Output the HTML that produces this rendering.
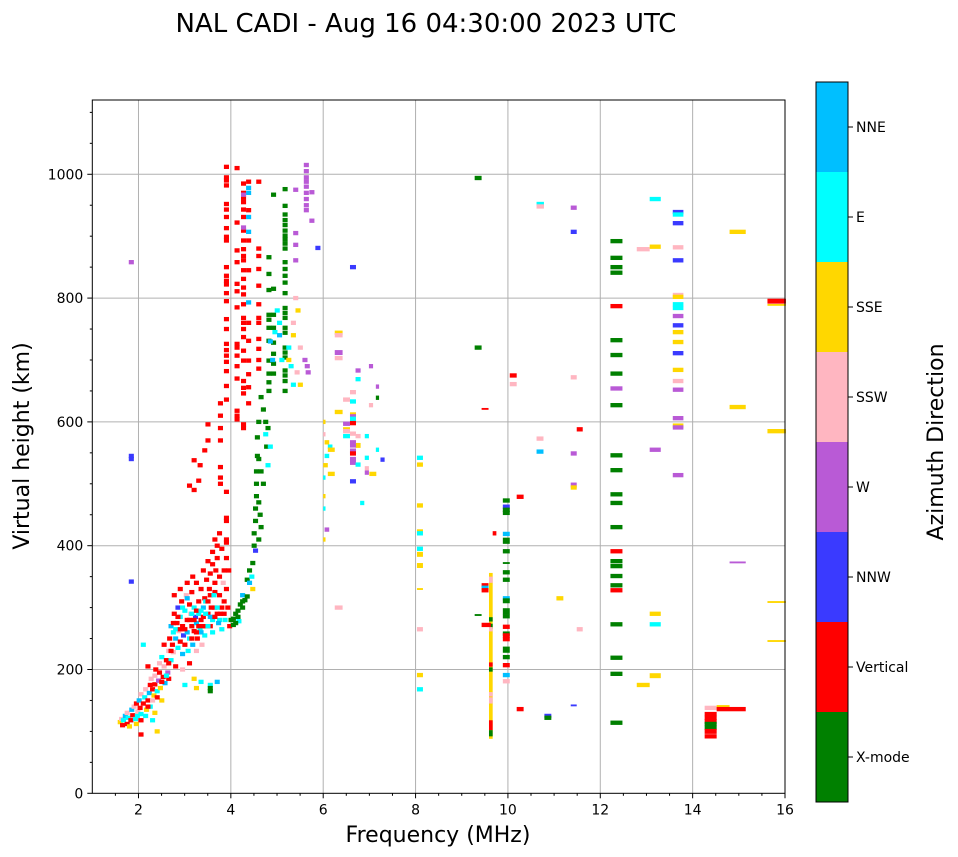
<!DOCTYPE html>
<html><head><meta charset="utf-8">
<style>
html,body{margin:0;padding:0;background:#fff;}
svg{display:block;font-family:"DejaVu Sans","Liberation Sans",sans-serif;}
</style></head>
<body>
<svg id="chart" width="958" height="857" viewBox="0 0 958 857">
<text x="426" y="32" font-size="26" text-anchor="middle" fill="#000">NAL CADI - Aug 16 04:30:00 2023 UTC</text>
<g id="grid"></g>
<g id="marks"></g>
<rect x="92.3" y="100" width="692.7" height="693.3" fill="none" stroke="#000" stroke-width="1"/>
<g id="axes"></g>
<text x="438" y="842" font-size="22" text-anchor="middle">Frequency (MHz)</text>
<text transform="translate(29,446) rotate(-90)" font-size="22" text-anchor="middle">Virtual height (km)</text>
<g id="cbar"></g>
<text transform="translate(943,442) rotate(-90)" font-size="22" text-anchor="middle">Azimuth Direction</text>
</svg>
<script>
const directions = ["X-mode","Vertical","NNW","W","SSW","SSE","E","NNE"];
const dirColors = ["#008000","#ff0000","#3a3aff","#b95ad6","#ffb6c1","#ffd700","#00ffff","#00bfff"];
const xTicks = [2,4,6,8,10,12,14,16];
const yTicks = [0,200,400,600,800,1000];
// [freq MHz, virtual height km, direction index, (freq span MHz), (height span km)]
const echoes = [
[1.55,115,5],[1.58,120,4],[1.6,110,1],[1.62,118,6],[1.66,125,7],[1.7,112,1],[1.7,130,4],[1.72,122,6],[1.75,108,5],[1.78,118,1],[1.8,135,7],[1.82,126,1],[1.85,140,4],[1.88,120,6],[1.9,145,1],[1.9,112,5],[1.93,132,4],[1.96,150,7],[1.98,138,1],[2.0,128,6],[2.0,95,1],[2.0,160,4],[2.05,145,1],[2.08,155,6],[2.1,168,4],[2.12,135,5],[2.15,150,1],[2.18,162,7],[2.2,175,1],[2.2,140,6],[2.22,185,4],[2.25,168,1],[2.28,158,5],[2.3,190,4],[2.3,176,1],[2.32,200,1],[2.35,165,6],[2.38,182,3],[2.4,210,4],[2.4,195,1],[2.42,170,5],[2.45,150,5],[2.45,220,6],[2.48,188,1],[2.5,205,4],[2.5,240,1],[2.52,178,7],[2.55,215,1],[2.58,195,3],[2.6,230,4],[2.6,185,1],[2.3,130,5],[2.25,118,6],[2.35,100,5],[2.15,205,1],[2.05,240,6],
[2.62,250,1],[2.65,215,6],[2.65,270,7],[2.68,240,1],[2.7,260,6],[2.7,228,4],[2.72,290,1],[2.75,250,7],[2.75,205,1],[2.78,275,1],[2.8,235,6],[2.8,300,2],[2.82,262,4],[2.85,245,1],[2.85,285,6],[2.88,310,1],[2.9,270,1],[2.9,225,7],[2.92,255,2],[2.95,295,6],[2.95,240,1],[2.98,320,4],[3.0,280,1],[3.0,260,7],[3.02,230,6],[3.05,305,1],[3.05,250,6],[3.08,290,4],[3.1,270,1],[3.1,325,1],[3.12,240,7],[3.15,300,6],[3.15,262,1],[3.18,285,2],[3.2,275,7],[3.2,340,1],[3.22,250,1],[3.25,310,1],[3.25,290,6],[3.28,265,6],[3.3,330,1],[3.3,280,1],[3.32,240,4],[3.35,300,7],[3.35,270,1],[3.38,315,1],[3.38,255,6],[2.72,320,1],[2.85,330,1],[3.0,340,1],[3.12,350,1],[3.05,210,1],[2.9,200,4],[3.2,230,4],
[2.7,275,1],[2.8,285,1],[2.9,300,6],[2.95,265,1],[3.0,315,7],[3.05,280,1],[3.1,290,6],[3.15,280,1],[3.2,295,1],[3.25,270,1],[3.3,295,6],[3.35,285,1],[3.4,270,1],[3.45,290,1],[3.5,270,1],[3.55,280,6],[3.6,300,1],[3.65,290,1],[3.7,280,6],[3.75,300,1],[3.8,290,1],[3.4,310,6],[3.5,320,1],[3.6,325,1],[3.3,260,7],[3.2,260,1],[3.1,250,1],[2.6,210,1],[2.55,190,6],[2.45,180,1],[2.35,155,1],[2.25,150,4],[2.15,140,1],[2.1,125,6],[2.0,118,1],[1.92,125,6],[2.65,230,1],[2.75,265,6],[2.85,265,1],
[3.4,290,6],[3.42,345,1],[3.45,310,1],[3.45,270,6],[3.48,330,1],[3.5,355,1],[3.5,285,7],[3.52,300,1],[3.55,370,1],[3.55,260,6],[3.58,320,6],[3.6,340,1],[3.6,285,1],[3.62,360,1],[3.65,300,6],[3.65,380,1],[3.68,275,7],[3.7,350,1],[3.7,320,1],[3.72,290,1],[3.75,395,1],[3.75,265,6],[3.78,340,4],[3.8,310,1],[3.8,360,1],[3.82,280,6],[3.85,380,1],[3.85,330,1],[3.88,300,1],[3.9,360,1],[3.92,270,1],[3.55,390,1],[3.65,400,1],[3.45,375,1],[3.35,360,1],[3.6,410,1],[3.7,420,1],
[3.3,180,6],[3.5,175,6],[3.65,180,7],[3.5,165,0],[3.5,170,0],[3.2,170,5],[3.15,185,5],[2.95,175,6],
[3.95,280,0],[4.0,272,0],[4.05,290,0],[4.1,285,0],[4.12,278,6],[4.15,305,0],[4.2,300,0],[4.25,312,0],[4.2,320,7],[4.3,318,0],[4.3,345,0],[4.35,340,7],[4.35,360,0],[4.4,350,6],[4.42,372,0],[4.45,400,0],[4.45,420,0],[4.48,440,0],[4.48,460,0],[4.5,480,0],[4.5,500,0],[4.5,520,0],[4.52,545,0],[4.52,575,0],[4.55,600,0],[4.48,392,2],[4.42,330,5],[4.0,282,0],[4.1,295,0],[4.2,310,0],[4.05,275,0],
[3.72,630,1],[3.72,610,1],[3.72,590,1],[3.72,570,1],[3.72,527,1],[3.72,510,1],[3.72,500,1],
[3.85,487,1],[3.85,445,1],[3.85,410,1],[3.85,405,1],[3.85,440,1],[3.85,1012,1],[3.85,995,1],[3.85,990,1],[3.85,982,1],[3.85,952,1],[3.85,943,1],[3.85,931,1],[3.85,913,1],[3.85,899,1],[3.85,893,1],[3.85,850,1],[3.85,836,1],[3.85,828,1],[3.85,822,1],[3.85,808,1],[3.85,795,1],[3.85,766,1],[3.85,750,1],[3.85,726,1],[3.85,716,1],[3.85,707,1],[3.85,697,1],[3.85,682,1],[3.85,658,1],[3.85,636,1],
[4.08,1010,1],[4.08,922,1],[4.08,877,1],[4.08,858,1],[4.08,823,1],[4.08,811,1],[4.08,785,1],[4.08,726,1],[4.08,720,1],[4.08,707,1],[4.08,690,1],[4.08,670,1],[4.08,618,1],[4.08,610,1],[4.08,604,1],
[4.22,985,1],[4.22,970,1],[4.22,962,1],[4.22,955,1],[4.22,943,1],[4.22,931,1],[4.22,909,1],[4.22,893,1],[4.22,879,1],[4.22,868,1],[4.22,861,1],[4.22,845,1],[4.22,831,1],[4.22,817,1],[4.22,806,1],[4.22,790,1],[4.22,768,1],[4.22,760,1],[4.22,750,1],[4.22,737,1],[4.22,715,1],[4.22,699,1],[4.22,666,1],[4.22,655,1],[4.22,646,1],[4.22,596,1],[4.22,590,1],
[4.33,988,1],[4.33,942,1],[4.33,893,1],[4.33,845,1],[4.33,760,1],[4.33,731,1],[4.33,699,1],[4.33,677,1],[4.33,656,1],[4.33,630,1],
[4.55,988,1],[4.55,880,1],[4.55,868,1],[4.55,847,1],[4.55,820,1],[4.55,790,1],[4.55,768,1],[4.55,760,1],[4.55,734,1],[4.55,718,1],[4.55,700,1],[4.55,686,1],
[4.33,978,7],[4.33,970,7],[4.33,931,7],[4.33,907,7],[4.33,793,7],[4.22,967,3],[4.22,914,3],
[3.38,554,1],[3.45,596,1],[3.45,570,1],[3.28,530,1],[3.15,538,1],[3.25,505,1],[3.05,497,1],[3.15,490,1],
[4.87,967,0],[4.87,815,0],[4.87,773,0],[4.87,752,0],[4.87,728,0],[4.87,710,0],[4.87,694,0],[4.87,678,0],
[5.12,976,0],[5.12,949,0],[5.12,935,0],[5.12,926,0],[5.12,918,0],[5.12,909,0],[5.12,901,0],[5.12,895,0],[5.12,888,0],[5.12,880,0],[5.12,858,0],[5.12,847,0],[5.12,836,0],[5.12,825,0],[5.12,808,0],[5.12,784,0],[5.12,776,0],[5.12,768,0],[5.12,752,0],[5.12,744,0],[5.12,720,0],[5.12,712,0],[5.12,704,0],[5.12,683,0],[5.12,675,0],[5.12,666,0],[5.12,650,0],
[4.77,866,0],[4.77,839,0],[4.77,813,0],[4.77,773,0],[4.77,765,0],[4.77,752,0],[4.77,731,0],[4.77,699,0],[4.77,678,0],[4.77,664,0],[4.77,650,0],
[4.95,780,6],[5.0,760,6],[4.9,745,6],[5.05,700,6],[5.2,720,6],[5.25,690,6],[5.3,660,6],[4.8,730,7],[4.85,700,7],[5.0,740,7],
[5.35,800,4],[5.3,760,4],[5.45,720,4],[5.38,680,4],[5.4,780,5],[5.3,740,5],[5.2,700,5],[5.45,660,5],[5.55,700,3],[5.6,690,3],[5.62,680,3],
[5.58,1015,3],[5.58,1005,3],[5.58,995,3],[5.58,988,3],[5.58,980,3],[5.58,970,3],[5.58,960,3],[5.58,950,3],[5.58,942,3],[5.7,971,3],[5.7,925,3],
[5.35,975,3],[5.35,905,3],[5.35,886,3],[5.35,861,3],[5.83,881,2],
[4.6,640,0],[4.65,620,0],[4.7,600,0],[4.75,590,0],[4.72,560,0],[4.55,540,0],[4.6,520,0],[4.65,500,0],[4.55,470,0],[4.58,450,0],[4.6,430,0],[4.55,410,0],[4.7,580,6],[4.8,560,6],[4.75,530,6],
[1.79,858,3],[1.79,545,2],[1.79,540,2],[1.79,342,2],
[12.22,892,0,0.26],[12.22,865,0,0.26],[12.22,850,0,0.26],[12.22,841,0,0.26],[12.22,732,0,0.26],[12.22,708,0,0.26],[12.22,678,0,0.26],[12.22,627,0,0.26],[12.22,546,0,0.26],[12.22,522,0,0.26],[12.22,483,0,0.26],[12.22,469,0,0.26],[12.22,430,0,0.26],[12.22,375,0,0.26],[12.22,367,0,0.26],[12.22,351,0,0.26],[12.22,336,0,0.26],[12.22,273,0,0.26],[12.22,219,0,0.26],[12.22,193,0,0.26],[12.22,114,0,0.26],[12.22,787,1,0.26],[12.22,391,1,0.26],[12.22,328,1,0.26],[12.22,654,3,0.26],
[13.07,960,6,0.24],[13.07,555,3,0.24],[13.07,290,5,0.24],[13.07,273,6,0.24],[13.07,190,5,0.24,8],[12.79,879,4,0.28],[12.79,175,5,0.28],[13.07,883,5,0.24],
[13.57,939,2,0.23],[13.57,935,6,0.23],[13.57,921,2,0.23],[13.57,882,4,0.23],[13.57,861,2,0.23],[13.57,805,4,0.23],[13.57,802,5,0.23],[13.57,790,6,0.23],[13.57,784,6,0.23],[13.57,771,3,0.23],[13.57,756,2,0.23],[13.57,745,5,0.23],[13.57,729,5,0.23],[13.57,711,2,0.23],[13.57,684,5,0.23],[13.57,666,4,0.23],[13.57,652,3,0.23],[13.57,606,3,0.23],[13.57,594,5,0.23],[13.57,591,3,0.23],[13.57,514,3,0.23],
[11.36,946,3,0.13],[11.36,907,2,0.13],[11.36,672,4,0.13],[11.36,549,3,0.13],[11.36,498,3,0.13,8],[11.36,494,5,0.13],[11.49,588,1,0.13],[11.49,265,4,0.13],[11.36,142,2,0.13,3],
[14.8,907,5,0.35],[14.8,624,5,0.35],[14.8,373,3,0.35,3],
[15.62,795,1,0.4,8],[15.62,789,5,0.4,3],[15.62,585,5,0.4],[15.62,309,5,0.4,3],[15.62,246,5,0.4,3],
[14.26,138,4,0.26],[14.52,139,5,0.28],[14.52,136,1,0.63],[14.26,128,1,0.26],[14.26,122,1,0.26],[14.26,116,1,0.26,8],[14.26,112,0,0.26],[14.26,106,0,0.26],[14.26,100,1,0.26,8],[14.26,92,1,0.26],
[9.28,994,0,0.15],[9.28,720,0,0.15],[10.62,952,6,0.16],[10.62,948,4,0.16],[6.58,850,2,0.13],
[6.25,744,5,0.17],[6.25,740,4,0.17],[6.25,712,3,0.17,8],[6.25,703,4,0.17],[6.7,683,3,0.11],[6.7,669,6,0.11],[6.99,690,3,0.09],[7.14,657,3,0.07],[7.14,639,0,0.07],[6.58,648,4,0.13],[6.43,636,4,0.15],[6.58,633,6,0.13],[6.99,627,4,0.09],[6.25,616,5,0.17],[6.58,612,5,0.13],[6.58,609,3,0.13],[6.58,605,6,0.13],[6.58,598,1,0.13],[6.43,597,3,0.15],[6.43,588,5,0.15],[6.43,585,4,0.15],[6.58,581,4,0.13],[6.43,577,6,0.15],[6.7,577,4,0.11],[6.9,577,6,0.09],[6.58,567,3,0.13],[6.7,562,5,0.11,8],[6.58,562,3,0.13],[6.03,567,5,0.1],[6.1,560,6,0.1],[7.14,555,6,0.07],[6.58,553,3,0.13,8],[6.58,549,1,0.13],[6.1,555,5,0.15],[6.58,540,3,0.13],[7.24,539,2,0.09],[6.03,545,6,0.1],[6.9,542,6,0.09],[6.58,534,3,0.13],[6.0,530,5,0.1],[6.7,531,6,0.11],[6.9,525,4,0.09],[6.9,518,3,0.09],[6.1,516,5,0.15],[7.0,516,5,0.15],[6.58,504,2,0.13],[6.8,469,6,0.09],[6.03,426,3,0.1],[6.0,600,5,0.05],[6.0,580,4,0.05],[6.0,510,6,0.05],[6.0,480,5,0.05],[6.0,460,6,0.05],[6.0,410,5,0.05],
[8.03,542,6,0.13],[8.03,531,5,0.13],[8.03,465,5,0.13],[8.03,423,5,0.13],[8.03,420,6,0.13],[8.03,395,6,0.13],[8.03,386,5,0.13,8],[8.03,368,5,0.13,8],[8.03,330,5,0.13,3],[8.03,265,4,0.13],[8.03,191,5,0.13],[8.03,168,6,0.13],
[10.04,675,1,0.15],[10.04,661,4,0.15],[9.43,621,1,0.15,3],[10.19,479,1,0.15],[9.67,420,1,0.08],[10.62,573,4,0.15],[10.62,552,7,0.15],[11.05,315,5,0.15],[10.19,136,1,0.15],[10.79,125,2,0.15],[10.79,122,0,0.15],[6.25,300,4,0.17],
[9.59,222,5,0.08,268],[9.59,345,4,0.08,10],[9.43,336,1,0.15],[9.43,332,7,0.15],[9.43,328,1,0.15],[9.28,288,0,0.15,3],[9.59,281,0,0.08],[9.59,270,0,0.08,8],[9.43,272,1,0.2],[9.59,265,4,0.08],[9.59,208,1,0.08],[9.59,200,0,0.08],[9.59,160,4,0.08],[9.59,150,4,0.08,10],[9.59,110,1,0.08,16],[9.59,97,0,0.08,10],
[9.89,473,0,0.15],[9.89,463,2,0.15],[9.89,458,0,0.15],[9.89,453,0,0.15],[9.89,419,7,0.15],[9.89,408,0,0.15,10],[9.89,391,0,0.15],[9.89,372,0,0.15,3],[9.89,357,0,0.15],[9.89,345,0,0.15],[9.89,315,7,0.15],[9.89,311,0,0.15,8],[9.89,294,0,0.15,10],[9.89,286,0,0.15],[9.89,269,1,0.15],[9.89,258,0,0.15],[9.89,255,1,0.15],[9.89,249,1,0.15],[9.89,232,0,0.15,10],[9.89,220,0,0.15],[9.89,207,1,0.15],[9.89,191,7,0.15],[9.89,181,4,0.15]
];

const NS = "http://www.w3.org/2000/svg";
const PX0 = 92.3, PX1 = 785, PY0 = 793.3, PY1 = 100;
const F0 = 1, F1 = 16, H0 = 0, H1 = 1120;
function xScale(f){ return PX0 + (f - F0) / (F1 - F0) * (PX1 - PX0); }
function yScale(h){ return PY0 - (h - H0) / (H1 - H0) * (PY0 - PY1); }
function mk(tag, attrs, parent){
  const e = document.createElementNS(NS, tag);
  for (const k in attrs) e.setAttribute(k, attrs[k]);
  parent.appendChild(e);
  return e;
}
const grid = document.getElementById("grid");
const axes = document.getElementById("axes");
const marks = document.getElementById("marks");
const cbar = document.getElementById("cbar");

xTicks.forEach(t => {
  const x = xScale(t);
  if (t < F1) {
    const gl = mk("line", {x1:x, x2:x, y1:PY1, y2:PY0, stroke:"#b0b0b0", "stroke-width":1}, grid);
    
    
  }
  const tk = mk("line", {x1:x, x2:x, y1:PY0, y2:PY0+5, stroke:"#000"}, axes);
  
  
  const lb = mk("text", {x:x, y:PY0+21, "font-size":14, "text-anchor":"middle"}, axes);
  lb.textContent = String(t);
  
  
});
for (let f = 1.5; f < 16; f += 0.5) {
  if (Number.isInteger(f) && f % 2 === 0) continue;
  const x = xScale(f);
  const m = mk("line", {x1:x, x2:x, y1:PY0, y2:PY0+2.5, stroke:"#000"}, axes);
  
  
}
yTicks.forEach(t => {
  const y = yScale(t);
  if (t > 0) {
    const gl = mk("line", {x1:PX0, x2:PX1, y1:y, y2:y, stroke:"#b0b0b0", "stroke-width":1}, grid);
    
    
  }
  const tk = mk("line", {x1:PX0-5, x2:PX0, y1:y, y2:y, stroke:"#000"}, axes);
  
  
  const lb = mk("text", {x:PX0-9, y:y+5, "font-size":14, "text-anchor":"end"}, axes);
  lb.textContent = String(t);
  
  
});
for (let h = 50; h < H1; h += 50) {
  if (h % 200 === 0) continue;
  const y = yScale(h);
  const m = mk("line", {x1:PX0-2.5, x2:PX0, y1:y, y2:y, stroke:"#000"}, axes);
  
  
}

echoes.forEach(e => {
  const f = e[0], h = e[1], d = e[2];
  const w = e[3] !== undefined ? e[3] : 0.11;
  const hk = e[4] !== undefined ? e[4] : 7;
  const x0 = xScale(f), x1 = xScale(f + w);
  const yTop = yScale(h + hk / 2), yBot = yScale(h - hk / 2);
  const r = mk("rect", {x:x0.toFixed(2), y:yTop.toFixed(2), width:(x1-x0).toFixed(2), height:(yBot-yTop).toFixed(2), fill:dirColors[d]}, marks);
  
  
});

const CB_X = 816, CB_W = 32, CB_TOP = 82, CB_BOT = 802;
const binH = (CB_BOT - CB_TOP) / directions.length;
directions.forEach((name, i) => {
  const y = CB_BOT - (i + 1) * binH;
  const r = mk("rect", {x:CB_X, y:y, width:CB_W, height:binH, fill:dirColors[i]}, cbar);
  
  
  const cy = y + binH / 2;
  const tk = mk("line", {x1:CB_X+CB_W, x2:CB_X+CB_W+5, y1:cy, y2:cy, stroke:"#000"}, cbar);
  
  
  const lb = mk("text", {x:CB_X+CB_W+8, y:cy+5, "font-size":14}, cbar);
  lb.textContent = name;
  
  
});
const fr = mk("rect", {x:CB_X, y:CB_TOP, width:CB_W, height:CB_BOT-CB_TOP, fill:"none", stroke:"#000"}, cbar);


</script>
</body></html>
